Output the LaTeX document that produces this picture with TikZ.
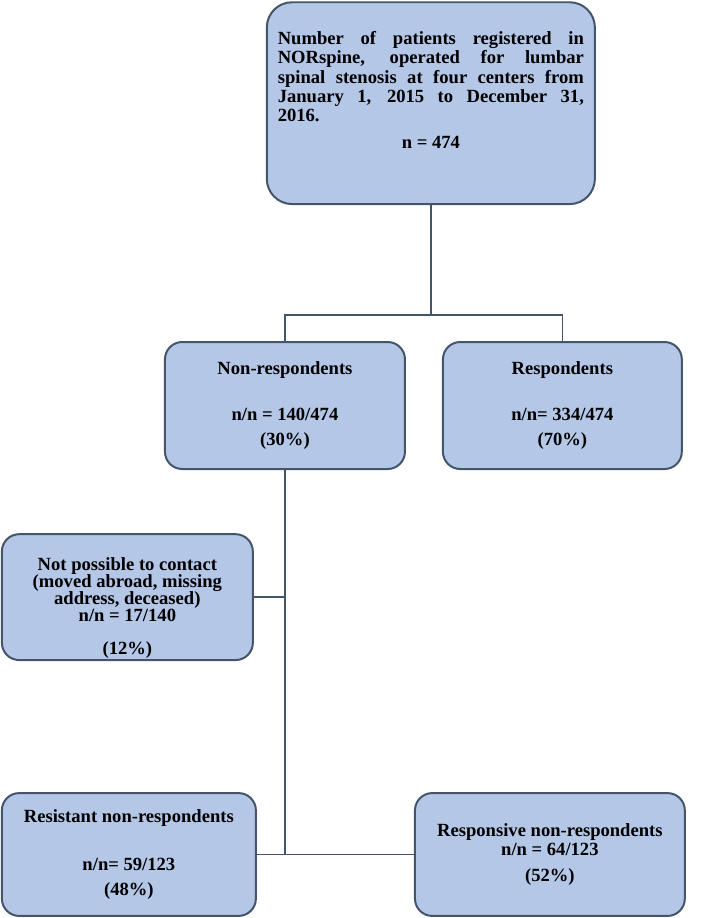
\documentclass[tikz,border=0pt]{standalone}
\usepackage{fontspec}
\setmainfont{Liberation Serif}
\usepackage{tikz}
\usetikzlibrary{positioning}
\usetikzlibrary{calc}
\definecolor{boxfill}{HTML}{B4C7E7}
\definecolor{boxline}{HTML}{44546A}

\begin{document}
\begin{tikzpicture}[flowbox/.style={draw=boxline, fill=boxfill, line width=1.5pt,
             align=center, inner sep=0pt, rounded corners=13pt,
             font=\bfseries\fontsize{14}{15}\selectfont},
              regbox/.style={flowbox, minimum width=8.68cm, minimum height=5.34cm,
                rounded corners=19pt, font=\bfseries\fontsize{14}{14.5}\selectfont},
              groupbox/.style={flowbox, minimum height=3.36cm},
              subbox/.style={flowbox, minimum height=3.25cm},
             connections/.style={draw=boxline, line width=1.2pt},
          ]
          \useasboundingbox (0,0) rectangle (18.81,24.29);

          \node at (11.40,21.56) (reg) [regbox]  {\parbox[b]{8.1cm}{\hyphenpenalty=10000
             Number of patients registered in\linebreak NORspine, operated for lumbar\linebreak
             spinal stenosis at four centers from\linebreak January 1, 2015 to December 31,\linebreak
             2016.}\\[5.5pt]n = 474\\[5.6pt]\mbox{}};
          \node at (7.54,13.56) (nonresp) [groupbox, minimum width=6.35cm]  {Non-respondents\\[20pt]n/n = 140/474\\[4pt](30\%)};
          \node at (14.88,13.56) (resp) [groupbox, minimum width=6.32cm]  {Respondents\\[20pt]n/n= 334/474\\[4pt](70\%)};
          \node at (3.37,8.49) (lost) [flowbox, minimum width=6.64cm, minimum height=3.33cm,
             font=\bfseries\fontsize{14}{13}\selectfont]  {\rule{0pt}{26pt}Not possible to contact\\(moved abroad, missing\\address, deceased)\\n/n = 17/140\\[11.75pt](12\%)};
          \node at (3.41,1.68) (resist) [subbox, minimum width=6.72cm]  {Resistant non-respondents\\[21.75pt]n/n= 59/123\\[3.75pt](48\%)};
          \node at (14.55,1.68) (respon) [subbox, minimum width=7.14cm]  {Responsive non-respondents\\n/n = 64/123\\[4.5pt](52\%)};
          \coordinate (split) at (11.40,15.95);
          \draw[connections] (reg.south) -- (split);
          \draw[connections] (split) -| (nonresp.north);
          \draw[connections] (split) -| (resp.north);
          \draw[connections] (nonresp.south) -- (nonresp.south |- resist.east);
          \draw[connections] (lost.east) -- (lost.east -| nonresp.south);
          \draw[connections] (resist.east) -- (respon.west);

       \end{tikzpicture}
\end{document}
